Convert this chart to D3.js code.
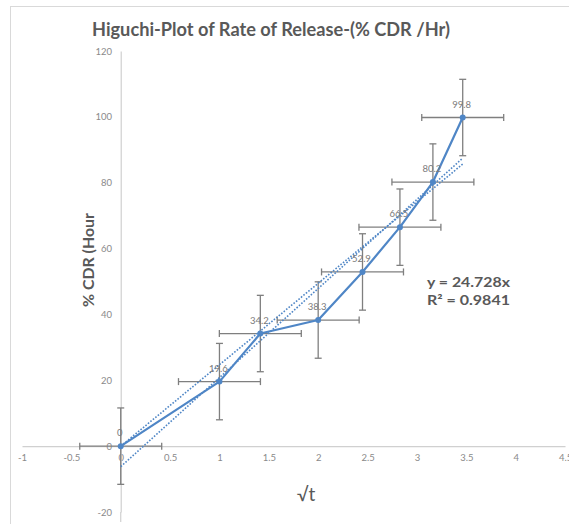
<!DOCTYPE html>
<html>
<head>
<meta charset="utf-8">
<script src="https://cdn.jsdelivr.net/npm/d3@7/dist/d3.min.js"></script>
<style>
  html, body { margin: 0; padding: 0; background: #ffffff; }
  svg { display: block; }
  text { font-family: "Lato", "Open Sans", "DejaVu Sans", sans-serif; }
</style>
</head>
<body>
<svg id="chart" width="569" height="524"></svg>
<script>
// ---- data ----
const sqrtTime = [0, 1, 1.414, 2, 2.449, 2.828, 3.162, 3.464];
const cdrValues = [0, 19.6, 34.2, 38.3, 52.9, 66.5, 80.2, 99.8];
const dataLabels = ["0", "19.6", "34.2", "38.3", "52.9", "66.5", "80.2", "99.8"];
const xErrors = [0.415, 0.415, 0.415, 0.415, 0.415, 0.415, 0.415, 0.415];
const yErrors = [11.6, 11.6, 11.6, 11.6, 11.6, 11.6, 11.6, 11.6];
const xTicks = [-1, -0.5, 0, 0.5, 1, 1.5, 2, 2.5, 3, 3.5, 4, 4.5];
const yTicks = [-20, 0, 20, 40, 60, 80, 100, 120];
const trendSlopes = [24.728, 27.05];
const trendIntercepts = [0, -6.23];
const equationLines = ["y = 24.728x", "R² = 0.9841"];

const svg = d3.select("#chart");
const blue = "#4f86c6";
const errColor = "#7f7f7f";
const textGray = "#595959";
const tickGray = "#8a8a8a";

// border
svg.append("rect").attr("x", 10.5).attr("y", 6.5).attr("width", 600).attr("height", 600)
  .attr("fill", "none").attr("stroke", "#d9d9d9").attr("stroke-width", 1);

const x = d3.scaleLinear().domain([-1, 4.5]).range([22, 565]);
const y = d3.scaleLinear().domain([-20, 120]).range([512, 51]);

// axes lines
const xAxis = d3.axisBottom(x).tickValues(xTicks).tickSize(0).tickFormat(d3.format("~g"));
const gx = svg.append("g").attr("transform", `translate(0,${y(0)})`).call(xAxis);
gx.select(".domain").attr("stroke", "#d0d0d0").attr("stroke-width", 1.2);
gx.selectAll("text").attr("fill", tickGray).attr("font-size", 9.5).attr("dy", "1.3em")
  .text(d => d3.format("~g")(d).replace("−", "-"));

const yAxis = d3.axisLeft(y).tickValues(yTicks).tickSize(0);
const gy = svg.append("g").attr("transform", `translate(${x(0)},0)`).call(yAxis);
gy.select(".domain").attr("stroke", "#d0d0d0").attr("stroke-width", 1.2);
gy.selectAll("text").attr("fill", tickGray).attr("font-size", 9.5).attr("dx", "-0.6em")
  .text(d => d3.format("~g")(d).replace("−", "-"));
// extend y axis line slightly below
svg.append("line").attr("x1", x(0)).attr("x2", x(0)).attr("y1", y(-20)).attr("y2", 522)
  .attr("stroke", "#d0d0d0").attr("stroke-width", 1.2);

const pts = sqrtTime.map((v, i) => ({ x: v, y: cdrValues[i], ex: xErrors[i], ey: yErrors[i], label: dataLabels[i] }));

// error bars
const eb = svg.append("g").attr("stroke", errColor).attr("stroke-width", 1.3).attr("fill", "none");
const cap = 3.5;
pts.forEach(p => {
  eb.append("line").attr("x1", x(p.x)).attr("x2", x(p.x)).attr("y1", y(p.y - p.ey)).attr("y2", y(p.y + p.ey));
  eb.append("line").attr("x1", x(p.x) - cap).attr("x2", x(p.x) + cap).attr("y1", y(p.y - p.ey)).attr("y2", y(p.y - p.ey));
  eb.append("line").attr("x1", x(p.x) - cap).attr("x2", x(p.x) + cap).attr("y1", y(p.y + p.ey)).attr("y2", y(p.y + p.ey));
  eb.append("line").attr("x1", x(p.x - p.ex)).attr("x2", x(p.x + p.ex)).attr("y1", y(p.y)).attr("y2", y(p.y));
  eb.append("line").attr("x1", x(p.x - p.ex)).attr("x2", x(p.x - p.ex)).attr("y1", y(p.y) - cap).attr("y2", y(p.y) + cap);
  eb.append("line").attr("x1", x(p.x + p.ex)).attr("x2", x(p.x + p.ex)).attr("y1", y(p.y) - cap).attr("y2", y(p.y) + cap);
});

// trendlines
const xMin = d3.min(sqrtTime), xMax = d3.max(sqrtTime);
trendSlopes.forEach((m, i) => {
  const b = trendIntercepts[i];
  svg.append("line")
    .attr("x1", x(xMin)).attr("y1", y(m * xMin + b))
    .attr("x2", x(xMax)).attr("y2", y(m * xMax + b))
    .attr("stroke", blue).attr("stroke-width", 1.6).attr("stroke-dasharray", "1.6 1.6");
});

// main line
const line = d3.line().x(d => x(d.x)).y(d => y(d.y));
svg.append("path").datum(pts).attr("d", line).attr("fill", "none")
  .attr("stroke", blue).attr("stroke-width", 2.2).attr("stroke-linejoin", "round");
svg.append("g").selectAll("circle").data(pts).join("circle")
  .attr("cx", d => x(d.x)).attr("cy", d => y(d.y)).attr("r", 3).attr("fill", blue);

// data labels
svg.append("g").selectAll("text").data(pts).join("text")
  .attr("x", d => x(d.x) - 1).attr("y", d => y(d.y) - 10)
  .attr("text-anchor", "middle").attr("font-size", 9.5).attr("fill", "#7a7a7a")
  .text(d => d.label);

// title
svg.append("text").attr("x", 271).attr("y", 36).attr("text-anchor", "middle")
  .attr("font-size", 19).attr("font-weight", "bold").attr("fill", textGray)
  .attr("textLength", 358).attr("lengthAdjust", "spacingAndGlyphs")
  .text("Higuchi-Plot of Rate of Release-(% CDR /Hr)");

// y axis title
svg.append("text").attr("transform", "translate(94,260) rotate(-90)")
  .attr("text-anchor", "middle").attr("font-size", 16).attr("font-weight", "bold").attr("fill", textGray)
  .attr("textLength", 94).attr("lengthAdjust", "spacingAndGlyphs")
  .text("% CDR (Hour");

// x axis title
svg.append("text").attr("x", 306).attr("y", 501).attr("text-anchor", "middle")
  .attr("font-size", 19).attr("fill", textGray).text("√t");

// equation
svg.append("g").selectAll("text").data(equationLines).join("text")
  .attr("x", 427).attr("y", (d, i) => 287 + i * 18)
  .attr("font-size", 14).attr("font-weight", "bold").attr("fill", textGray)
  .attr("textLength", 83).attr("lengthAdjust", "spacingAndGlyphs")
  .text(d => d);
</script>
</body>
</html>
